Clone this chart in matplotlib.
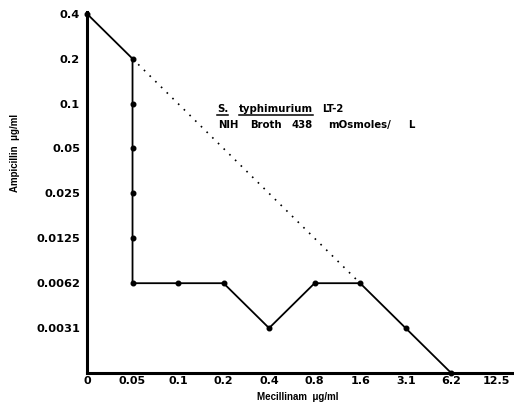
import matplotlib
matplotlib.use("Agg")
import matplotlib.pyplot as plt
from matplotlib.lines import Line2D

# axis scales (two-fold dilutions, drawn at equal spacing)
mec_ticks = ["0", "0.05", "0.1", "0.2", "0.4", "0.8", "1.6", "3.1", "6.2", "12.5"]
amp_ticks = ["0", "0.0031", "0.0062", "0.0125", "0.025", "0.05", "0.1", "0.2", "0.4"]

# isobole
iso_mec = ["0", "0.05", "0.05", "0.05", "0.05", "0.05", "0.05", "0.1", "0.2", "0.4", "0.8", "1.6", "3.1", "6.2"]
iso_amp = ["0.4", "0.2", "0.1", "0.05", "0.025", "0.0125", "0.0062", "0.0062", "0.0062", "0.0031", "0.0062", "0.0062", "0.0031", "0"]

# additivity (dotted) line
add_mec = ["0.05", "1.6"]
add_amp = ["0.2", "0.0062"]

plt.rcParams["font.family"] = "DejaVu Sans"
LAB = "Liberation Sans"
W, H = 514, 404

fig = plt.figure(figsize=(W / 100, H / 100), dpi=100)
ax = fig.add_axes([87/W, 31/H, 427/W, 361/H])

xi = lambda v: [mec_ticks.index(s) for s in v]
yi = lambda v: [amp_ticks.index(s) for s in v]

ax.plot(xi(add_mec), yi(add_amp), color="black", lw=1.2, ls=(0, (1, 3.8)), zorder=2)
ax.plot(xi(iso_mec), yi(iso_amp), color="black", lw=1.3, marker="o", ms=3.3, zorder=3, clip_on=False)

ax.set_xlim(0, 9.38)
ax.set_ylim(0, 8.04)
ax.set_xticks(range(len(mec_ticks)))
ax.set_xticklabels(mec_ticks)
ax.set_yticks(range(1, len(amp_ticks)))
ax.set_yticklabels(amp_ticks[1:])
ax.tick_params(axis="y", length=0, labelsize=8.2, pad=5)
ax.tick_params(axis="x", length=0, labelsize=8.0, pad=2)
for lab in ax.get_xticklabels() + ax.get_yticklabels():
    lab.set_fontweight("bold")

for s in ["top", "right"]:
    ax.spines[s].set_visible(False)
for s in ["left", "bottom"]:
    ax.spines[s].set_linewidth(2.2)

ax.set_xlabel("Mecillinam  \u03bcg/ml", fontsize=7.0, fontweight="bold", family=LAB)
ax.xaxis.set_label_coords((298 - 87) / 427, -(397 - 373) / 361)
ax.xaxis.label.set_va("center")
ax.set_ylabel("Ampicillin  \u03bcg/ml", fontsize=7.0, fontweight="bold", family=LAB)
ax.yaxis.set_label_coords((15 - 87) / 427, (373 - 153) / 361)
ax.yaxis.label.set_va("center")

# annotation, words placed at pixel positions
def word(x, y, s):
    return fig.text(x / W, 1 - y / H, s, fontsize=7.3, fontweight="bold", va="baseline")

t1 = word(217, 112, "S.")
t2 = word(239, 112, "typhimurium")
word(322, 112, "LT-2")
for x, s in [(218, "NIH"), (250, "Broth"), (291, "438"), (328, "mOsmoles/"), (408, "L")]:
    word(x, 128, s)

fig.canvas.draw()
r = fig.canvas.get_renderer()
for t in (t1, t2):
    bb = t.get_window_extent(r)
    yl = bb.y0 - 0.5
    fig.add_artist(Line2D([bb.x0 / W, bb.x1 / W], [yl / H, yl / H], color="black", lw=1.1))

fig.savefig("out.png", dpi=100)
